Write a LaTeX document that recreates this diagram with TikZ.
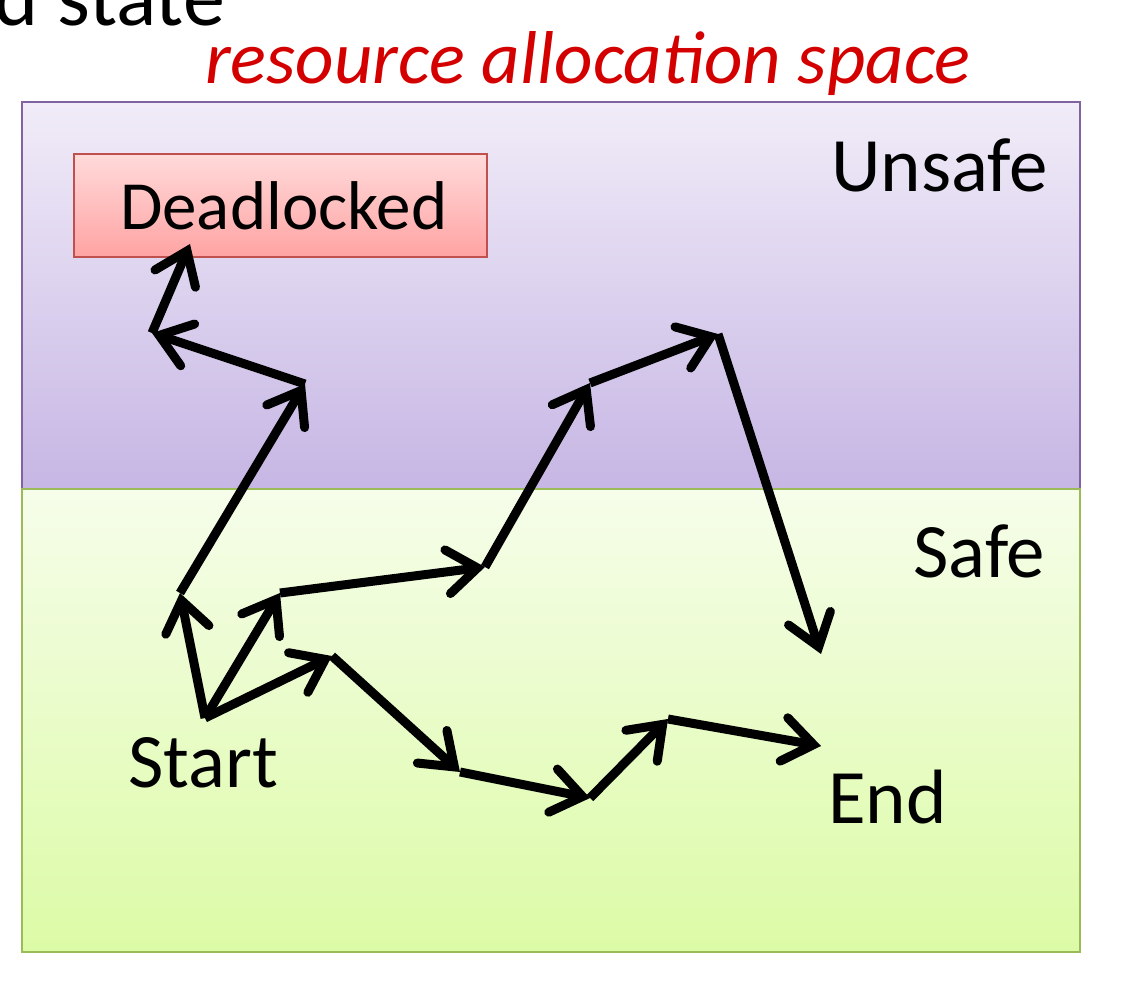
\documentclass[tikz,border=0pt]{standalone}
\usepackage{fontspec}
\setmainfont{Carlito}
\usetikzlibrary{arrows.meta}
\definecolor{unsafeborder}{HTML}{8064A2}
\definecolor{unsafetop}{HTML}{F1ECF8}
\definecolor{unsafebot}{HTML}{C6B6E4}
\definecolor{safeborder}{HTML}{9BBB59}
\definecolor{safetop}{HTML}{F6FDEA}
\definecolor{safebot}{HTML}{DCFBA6}
\definecolor{deadborder}{HTML}{C0504D}
\definecolor{deadtop}{HTML}{FFDADA}
\definecolor{deadbot}{HTML}{FFA3A3}
\definecolor{inkred}{HTML}{D40000}
\tikzset{
  big/.style={font=\fontsize{77}{84}\selectfont, inner sep=0pt},
  move/.style={line width=9pt, line cap=butt, -{Straight Barb[length=30pt,width=44pt,line cap=round]}},
}
\begin{document}
\begin{tikzpicture}[x=1pt,y=1pt]
\clip (0,0) rectangle (1130,-1000);
\fill[white] (0,0) rectangle (1130,-1000);
% regions
\shade[top color=unsafetop, bottom color=unsafebot] (22,-102) rectangle (1080,-489);
\draw[unsafeborder, line width=2pt] (22,-102) rectangle (1080,-489);
\shade[top color=safetop, bottom color=safebot] (22,-489) rectangle (1080,-952);
\draw[safeborder, line width=2pt] (22,-489) rectangle (1080,-952);
% deadlocked box
\shade[top color=deadtop, bottom color=deadbot] (74,-154) rectangle (487,-257);
\draw[deadborder, line width=2pt] (74,-154) rectangle (487,-257);
\node[big, font=\fontsize{69}{76}\selectfont, anchor=base west] (dead) at (120,-230) {Deadlocked};
% labels
\node[big, anchor=base west] (unsafe) at (831,-192) {Unsafe};
\node[big, anchor=base west] (safe) at (913,-577) {Safe};
\node[big, anchor=base west] (start) at (128,-787) {Start};
\node[big, anchor=base west] (end) at (828,-823) {End};
\node[big, font=\fontsize{84}{90}\selectfont, anchor=base west] (title) at (-6,-26) {d state};
\node[anchor=base west, inner sep=0pt, text=inkred] (hand) at (205,-84)
  {\resizebox{765pt}{!}{\itshape resource allocation space}};
% path points
\coordinate (S) at (205,-718);
\coordinate (a1) at (180,-593);
\coordinate (a2) at (305,-384);
\coordinate (a3) at (152,-333);
\coordinate (a4) at (190,-244);
\coordinate (b1) at (280,-593);
\coordinate (b2) at (485,-567);
\coordinate (b3) at (590,-383);
\coordinate (b4) at (718,-334);
\coordinate (b5) at (821,-654);
\coordinate (c1) at (332,-656);
\coordinate (c2) at (460,-772);
\coordinate (c3) at (590,-798);
\coordinate (c4) at (668,-719);
\coordinate (c5) at (821,-746);
% moves
\draw[move] (S) -- (a1);
\draw[move] (a1) -- (a2);
\draw[move] (a2) -- (a3);
\draw[move] (a3) -- (a4);
\draw[move] (S) -- (b1);
\draw[move] (b1) -- (b2);
\draw[move] (b2) -- (b3);
\draw[move] (b3) -- (b4);
\draw[move] (b4) -- (b5);
\draw[move] (S) -- (c1);
\draw[move] (c1) -- (c2);
\draw[move] (c2) -- (c3);
\draw[move] (c3) -- (c4);
\draw[move] (c4) -- (c5);
\end{tikzpicture}
\end{document}
